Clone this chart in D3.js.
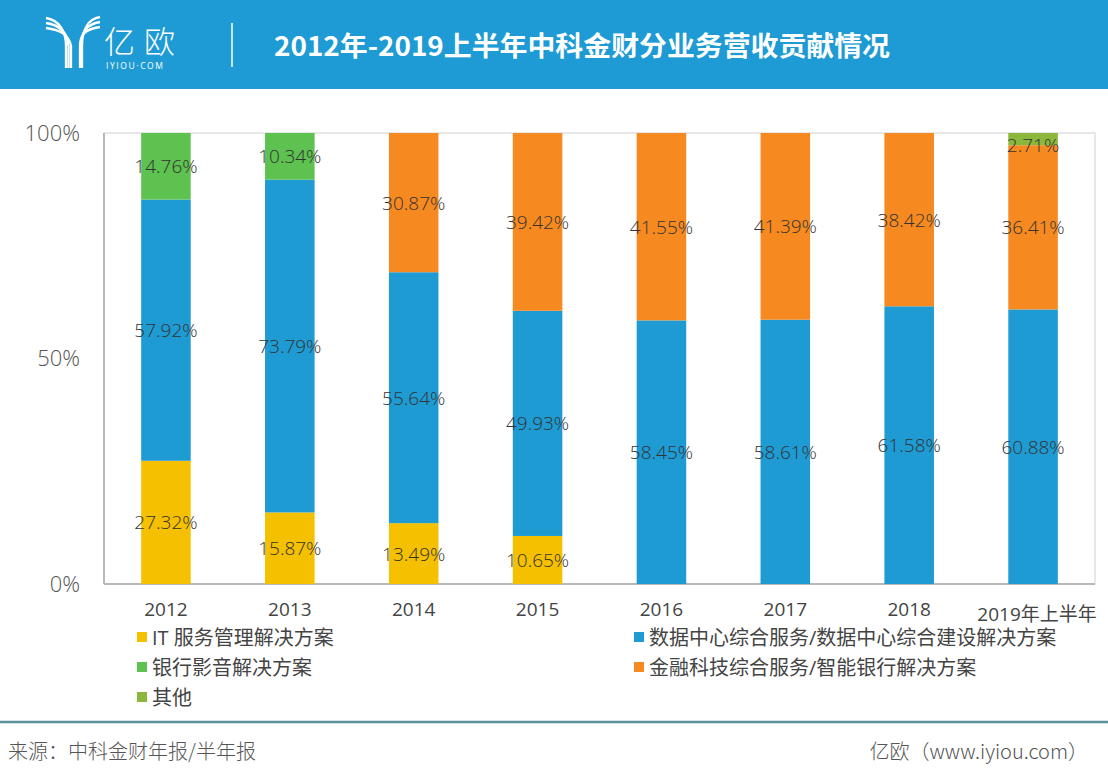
<!DOCTYPE html>
<html><head><meta charset="utf-8">
<script src="https://cdn.jsdelivr.net/npm/d3@7"></script>
<style>
html,body{margin:0;padding:0;background:#fff;}
svg{display:block;font-family:"Open Sans","Noto Sans CJK SC",sans-serif;}
</style></head>
<body>
<svg id="chart" width="1108" height="780"></svg>
<script>
const categories = ["2012","2013","2014","2015","2016","2017","2018","2019年上半年"];
const seriesNames = ["IT 服务管理解决方案","数据中心综合服务/数据中心综合建设解决方案","银行影音解决方案","金融科技综合服务/智能银行解决方案","其他"];
const itService   = [27.32,15.87,13.49,10.65,0,0,0,0];
const dataCenter  = [57.92,73.79,55.64,49.93,58.45,58.61,61.58,60.88];
const bankImage   = [14.76,10.34,0,0,0,0,0,0];
const fintech     = [0,0,30.87,39.42,41.55,41.39,38.42,36.41];
const other       = [0,0,0,0,0,0,0,2.71];
const yTicks = [0,50,100];
const colors = ["#f5c000","#1f9bd3","#5dc24f","#f68a20","#8bb73c"];
const title = "2012年-2019上半年中科金财分业务营收贡献情况";
const source = "来源：中科金财年报/半年报";
const credit = "亿欧（www.iyiou.com）";

const svg = d3.select("#chart");
// header
svg.append("rect").attr("x",0).attr("y",0).attr("width",1108).attr("height",89).attr("fill","#1e9bd4");
// logo
const logo = svg.append("g").attr("fill","none").attr("stroke","#fff").attr("stroke-width",2.3).attr("stroke-linecap","butt");
[0,5,10].forEach(o=>{
  logo.append("path").attr("d",`M46,${18+o} C${58+o*0.3},${20+o} ${66+o*0.3},${30+o*0.5} ${66+o*0.5},${46} L${66+o*0.5},${68}`);
});
[0,5,10].forEach(o=>{
  logo.append("path").attr("d",`M100,${17+o} C${88-o*0.3},${19+o} ${82-o*0.2},${30+o*0.5} ${82-o*0.2},${46} L${82-o*0.2},${68}`);
});
svg.append("text").attr("x",104).attr("y",53).attr("fill","#fff").attr("font-size",31).attr("font-weight",300)
  .attr("letter-spacing",9).attr("font-family","Noto Sans CJK SC").text("亿欧");
svg.append("text").attr("x",106).attr("y",69).attr("fill","#fff").attr("font-size",8.5).attr("letter-spacing",1.6).text("IYIOU·COM");
svg.append("line").attr("x1",232).attr("x2",232).attr("y1",23).attr("y2",67).attr("stroke","#fff").attr("stroke-width",1.5);
svg.append("text").attr("x",274).attr("y",56).attr("fill","#fff").attr("font-size",27).attr("font-weight","bold")
  .attr("textLength",616).attr("lengthAdjust","spacingAndGlyphs")
  .attr("font-family","Noto Sans CJK SC").text(title);

// chart
const m = {left:104,right:1095,top:133,bottom:584};
const x = d3.scaleBand().domain(categories).range([m.left,m.right]).paddingInner(0.6).paddingOuter(0.3);
const y = d3.scaleLinear().domain([0,100]).range([m.bottom,m.top]);

svg.append("rect").attr("x",m.left).attr("y",m.top).attr("width",m.right-m.left).attr("height",m.bottom-m.top)
  .attr("fill","none").attr("stroke","#d0d0d0").attr("stroke-width",1);
svg.append("line").attr("x1",m.left).attr("x2",m.left).attr("y1",m.top).attr("y2",m.bottom).attr("stroke","#b8b8b8").attr("stroke-width",2);
svg.append("line").attr("x1",m.left).attr("x2",m.right).attr("y1",m.bottom).attr("y2",m.bottom).attr("stroke","#b8b8b8").attr("stroke-width",2);

const yAxis = svg.append("g").attr("transform",`translate(${m.left},0)`)
  .call(d3.axisLeft(y).tickValues(yTicks).tickFormat(d=>d+"%").tickSize(0).tickPadding(24));
yAxis.select(".domain").remove();
yAxis.selectAll("text").attr("font-size",22).attr("fill","#555").attr("font-family","Open Sans").attr("font-weight",300);

const xAxis = svg.append("g").attr("transform",`translate(0,${m.bottom})`)
  .call(d3.axisBottom(x).tickSize(0).tickPadding(19));
xAxis.select(".domain").remove();
xAxis.selectAll("text").attr("font-size",19).attr("fill","#444").attr("font-family","Open Sans, Noto Sans CJK SC")
  .attr("dy",(d,i)=>i===7?"0.95em":"0.71em").attr("dx",(d,i)=>i===7?"4":"0");

const rows = categories.map((c,i)=>({cat:c, vals:[itService[i],dataCenter[i],bankImage[i],fintech[i],other[i]]}));
const order = [0,1,2,3,4];
rows.forEach(r=>{
  let acc=0;
  order.forEach(k=>{
    const v=r.vals[k];
    if(v<=0) return;
    const y0=acc, y1=acc+v; acc=y1;
    svg.append("rect").attr("x",x(r.cat)).attr("width",x.bandwidth())
      .attr("y",y(y1)).attr("height",y(y0)-y(y1)).attr("fill",colors[k]);
    svg.append("text").attr("x",x(r.cat)+x.bandwidth()/2).attr("y",y((y0+y1)/2)+ (v<5?6:0))
      .attr("text-anchor","middle").attr("dominant-baseline","central")
      .attr("font-size",19).attr("fill","#333").attr("font-weight",300).attr("font-family","Open Sans")
      .text(v.toFixed(2)+"%");
  });
});

// legend
const legendPos = [[137,637],[634,637],[137,667],[634,667],[137,697]];
const legendOrder=[0,1,2,3,4];
legendOrder.forEach((k,i)=>{
  const [lx,ly]=legendPos[i];
  svg.append("rect").attr("x",lx).attr("y",ly-5).attr("width",10).attr("height",10).attr("fill",colors[k]);
  svg.append("text").attr("x",lx+15).attr("y",ly).attr("dominant-baseline","central")
    .attr("font-size",20).attr("fill","#444").attr("font-family","Open Sans, Noto Sans CJK SC").text(seriesNames[k]);
});

// footer
svg.append("line").attr("x1",0).attr("x2",1108).attr("y1",722).attr("y2",722).attr("stroke","#5a8f9c").attr("stroke-width",2.5);
svg.append("text").attr("x",8).attr("y",750).attr("dominant-baseline","central").attr("font-size",20).attr("fill","#555")
  .attr("font-family","Noto Sans CJK SC").attr("font-weight",300).text(source);
svg.append("text").attr("x",1088).attr("y",750).attr("dominant-baseline","central").attr("text-anchor","end").attr("font-size",20).attr("fill","#555")
  .attr("font-family","Noto Sans CJK SC").attr("font-weight",300).text(credit);
</script>
</body></html>
